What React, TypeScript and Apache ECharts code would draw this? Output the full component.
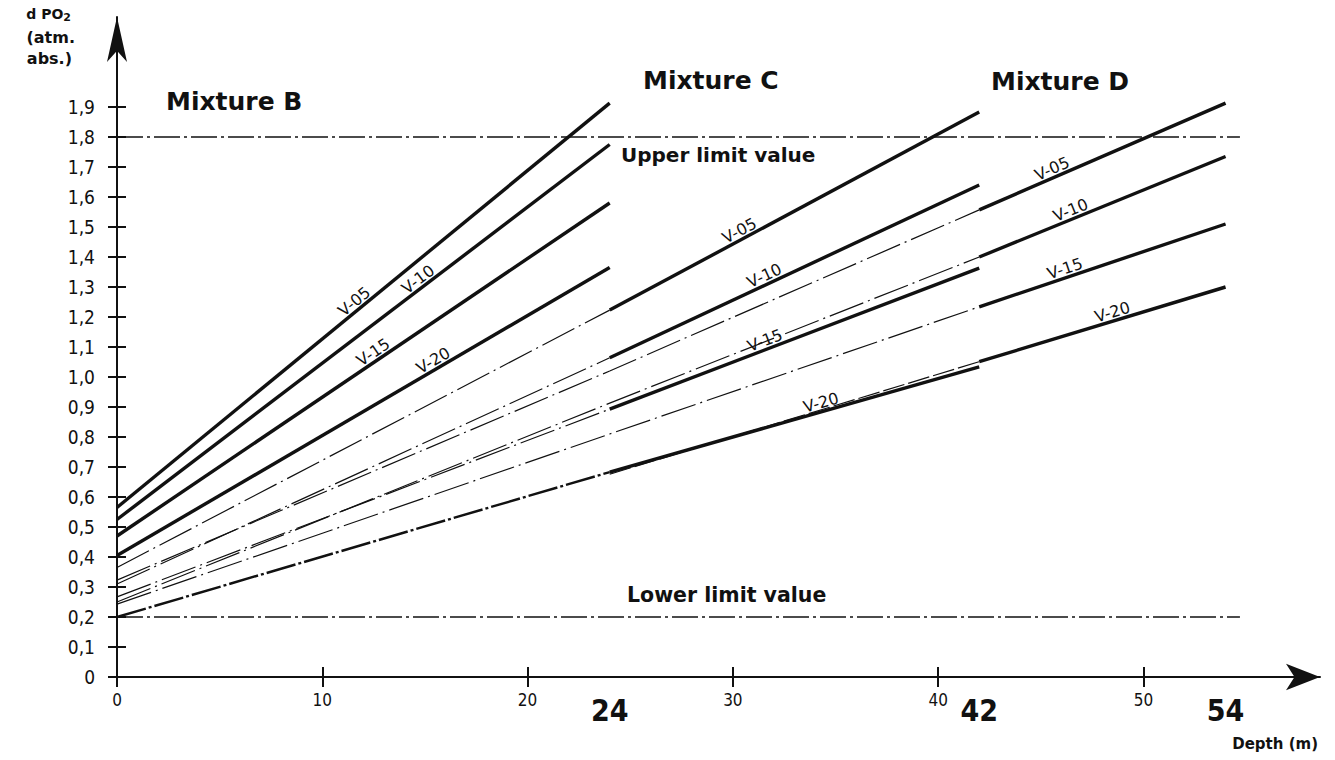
import React, { useEffect, useRef } from 'react';
import * as echarts from 'echarts';

// ---- data ----
const segmentDepths = [0, 24, 42, 54];
const vLabels = ['V-05', 'V-10', 'V-15', 'V-20'];
const mixtureNames = ['Mixture B', 'Mixture C', 'Mixture D'];
const mixBStart = [0.565, 0.525, 0.47, 0.405];
const mixBEnd = [1.913, 1.775, 1.58, 1.365];
const mixCStart = [1.223, 1.064, 0.893, 0.683];
const mixCEnd = [1.883, 1.64, 1.363, 1.034];
const mixDStart = [1.557, 1.4, 1.234, 1.051];
const mixDEnd = [1.913, 1.735, 1.51, 1.3];
// thin extensions of the mixture C lines back to 0 m
const extCAt0 = [0.365, 0.31, 0.267, 0.2];
// thin extensions of the mixture D lines back through C (and B)
const extDAt0 = [0.323, 0.25, 0.243, null];
const extDAt24 = [1.02, 0.913, 0.81, 0.676];
// depths where the V labels sit
const labelDepthB = [11.8, 14.9, 12.7, 15.6];
const labelDepthC = [30.5, 31.7, 31.7, 34.4];
const labelDepthD = [45.7, 46.6, 46.3, 48.6];
const limitValues = [1.8, 0.2];
const limitNames = ['Upper limit value', 'Lower limit value'];
const yTickValues = [0, 0.1, 0.2, 0.3, 0.4, 0.5, 0.6, 0.7, 0.8, 0.9, 1.0, 1.1, 1.2, 1.3, 1.4, 1.5, 1.6, 1.7, 1.8, 1.9];
const xTickValues = [0, 10, 20, 30, 40, 50];
const xLabelValues = [0, 10, 20, 24, 30, 40, 42, 50, 54];
const xBigLabels = [24, 42, 54];

const INK = '#111';
const NARROW = "'Liberation Sans Narrow','DejaVu Sans Condensed','Roboto Condensed','Liberation Sans',sans-serif";
const SANS = "'DejaVu Sans','Noto Sans',sans-serif";

const thick = (name: string, data: number[][]) => ({
  type: 'line', name, data, symbol: 'none', z: 5, silent: true,
  lineStyle: { color: INK, width: 3.4 },
});
const thin = (name: string, data: number[][], type: any, width = 1.2) => ({
  type: 'line', name, data, symbol: 'none', z: 3, silent: true,
  lineStyle: { color: INK, width, type },
});

export default function App() {
  const ref = useRef<HTMLDivElement>(null);
  useEffect(() => {
    if (!ref.current) return;
    const chart = echarts.init(ref.current, null, { renderer: 'svg' });
    const [d0, d1, d2, d3] = segmentDepths;
    const series: any[] = [];
    // thin extension lines
    extCAt0.forEach((v, i) => {
      if (i === 3) series.push(thin('C ext ' + vLabels[i], [[d0, v], [d1, mixCStart[i]]], [30, 3, 3, 3], 2.4));
      else series.push(thin('C ext ' + vLabels[i], [[d0, v], [d1, mixCStart[i]]], [36, 5, 2, 5]));
    });
    extDAt24.forEach((v, i) => {
      const pts: number[][] = [];
      if (extDAt0[i] != null) pts.push([d0, extDAt0[i] as number]);
      pts.push([d1, v], [d2, mixDStart[i]]);
      series.push(thin('D ext ' + vLabels[i], pts, i === 3 ? [22, 4] : [36, 5, 2, 5]));
    });
    // thick lines
    const segs = [
      { s: mixBStart, e: mixBEnd, a: d0, b: d1 },
      { s: mixCStart, e: mixCEnd, a: d1, b: d2 },
      { s: mixDStart, e: mixDEnd, a: d2, b: d3 },
    ];
    segs.forEach((sg, k) => {
      sg.s.forEach((v, i) => series.push(thick(mixtureNames[k] + ' ' + vLabels[i], [[sg.a, v], [sg.b, sg.e[i]]])));
    });
    // reference lines
    const vLine = (x: number, type: any, top = 1.965) => [
      { coord: [x, -0.043], lineStyle: { color: INK, width: 1.6, type } },
      { coord: [x, top] },
    ];
    const hLine = (y: number) => [
      { coord: [0, y], lineStyle: { color: INK, width: 1.6, type: [26, 4, 3, 4] } },
      { coord: [54.7, y] },
    ];
    series.push({
      type: 'line', name: 'refs', data: [], silent: true,
      markLine: {
        silent: true, symbol: ['none', 'none'], label: { show: false },
        data: [vLine(d1, 'solid'), vLine(d2, 'solid'), vLine(d3, [28, 3]), vLine(d0, 'solid', 0), ...limitValues.map(hLine)],
      },
    });

    const ticksY = { show: true, customValues: yTickValues, length: 9, lineStyle: { color: INK, width: 2 } };
    const ticksX = { show: true, customValues: xTickValues, length: 10, lineStyle: { color: INK, width: 2 } };
    const option: any = {
      animation: false,
      backgroundColor: '#fff',
      grid: { left: 117, right: 15, top: 17, bottom: 83 },
      xAxis: [
        {
          type: 'value', min: 0, max: 58.6, splitLine: { show: false },
          axisLine: { show: true, lineStyle: { color: INK, width: 2 }, symbol: ['none', 'arrow'], symbolSize: [20, 34] },
          axisTick: { ...ticksX, inside: false },
          axisLabel: {
            customValues: xLabelValues, margin: 14, color: INK,
            formatter: (v: number) => (xBigLabels.includes(v) ? `{big|${v}}` : `{small|${v}}`),
            rich: {
              big: { fontSize: 30, fontWeight: 'bold', fontFamily: NARROW, color: INK, padding: [4, 0, 0, 0] },
              small: { fontSize: 17, fontFamily: NARROW, color: INK },
            },
          },
        },
        {
          type: 'value', min: 0, max: 58.6, position: 'bottom', splitLine: { show: false },
          axisLine: { show: false }, axisLabel: { show: false },
          axisTick: { ...ticksX, inside: true },
        },
      ],
      yAxis: [
        {
          type: 'value', min: 0, max: 2.2, splitLine: { show: false },
          axisLine: { show: true, lineStyle: { color: INK, width: 2 }, symbol: ['none', 'arrow'], symbolSize: [15, 45] },
          axisTick: { ...ticksY, inside: false },
          axisLabel: {
            customValues: yTickValues, margin: 22, color: INK, fontSize: 19, fontFamily: NARROW,
            formatter: (v: number) => (v === 0 ? '0' : v.toFixed(1).replace('.', ',')),
          },
        },
        {
          type: 'value', min: 0, max: 2.2, position: 'left', splitLine: { show: false },
          axisLine: { show: false }, axisLabel: { show: false },
          axisTick: { ...ticksY, inside: true },
        },
      ],
      series,
    };
    chart.setOption(option);

    // labels along lines, placed through the chart's own scales
    const toPx = (p: number[]) => chart.convertToPixel({ xAxisIndex: 0, yAxisIndex: 0 }, p) as number[];
    const graphics: any[] = [];
    const labelSets = [labelDepthB, labelDepthC, labelDepthD];
    segs.forEach((sg, k) => {
      sg.s.forEach((v, i) => {
        const e = sg.e[i];
        const p0 = toPx([sg.a, v]);
        const p1 = toPx([sg.b, e]);
        const ang = Math.atan2(p0[1] - p1[1], p1[0] - p0[0]);
        const d = labelSets[k][i];
        const yv = v + ((e - v) * (d - sg.a)) / (sg.b - sg.a);
        const pa = toPx([d, yv]);
        graphics.push({
          type: 'text', x: pa[0], y: pa[1] - 1, rotation: ang, silent: true,
          style: { text: vLabels[i], fill: INK, fontSize: 16, fontFamily: SANS, align: 'center', verticalAlign: 'bottom' },
        });
      });
    });
    // titles & annotations (centre-aligned vertically)
    const txt = (text: string, x: number, y: number, fontSize: number, extra: any = {}) => ({
      type: 'text', x, y, silent: true,
      style: { text, fill: INK, fontSize, fontWeight: 'bold', fontFamily: SANS, align: 'left', verticalAlign: 'middle', ...extra },
    });
    graphics.push(txt(mixtureNames[0], 166, 101, 25));
    graphics.push(txt(mixtureNames[1], 643, 80, 25));
    graphics.push(txt(mixtureNames[2], 991, 81, 25));
    graphics.push(txt(limitNames[0], 621, 155, 20));
    graphics.push(txt(limitNames[1], 627, 595, 20.5));
    graphics.push({
      type: 'text', x: 71, y: 14, silent: true,
      style: {
        text: '{a|d PO}{s|2}', fill: INK, align: 'right', verticalAlign: 'middle',
        rich: {
          a: { fontSize: 14, fontWeight: 'bold', fontFamily: SANS, fill: INK },
          s: { fontSize: 11, fontWeight: 'bold', fontFamily: SANS, fill: INK, padding: [7, 0, 0, 0] },
        },
      },
    });
    graphics.push(txt('(atm.', 75, 37, 16, { align: 'right' }));
    graphics.push(txt('abs.)', 72, 58, 16, { align: 'right' }));
    graphics.push(txt('Depth (m)', 1318, 744, 15, { align: 'right' }));
    chart.setOption({ graphic: graphics });

    return () => chart.dispose();
  }, []);
  return <div ref={ref} style={{ position: 'fixed', left: 0, top: 0, width: 1335, height: 760, background: '#fff' }} />;
}
